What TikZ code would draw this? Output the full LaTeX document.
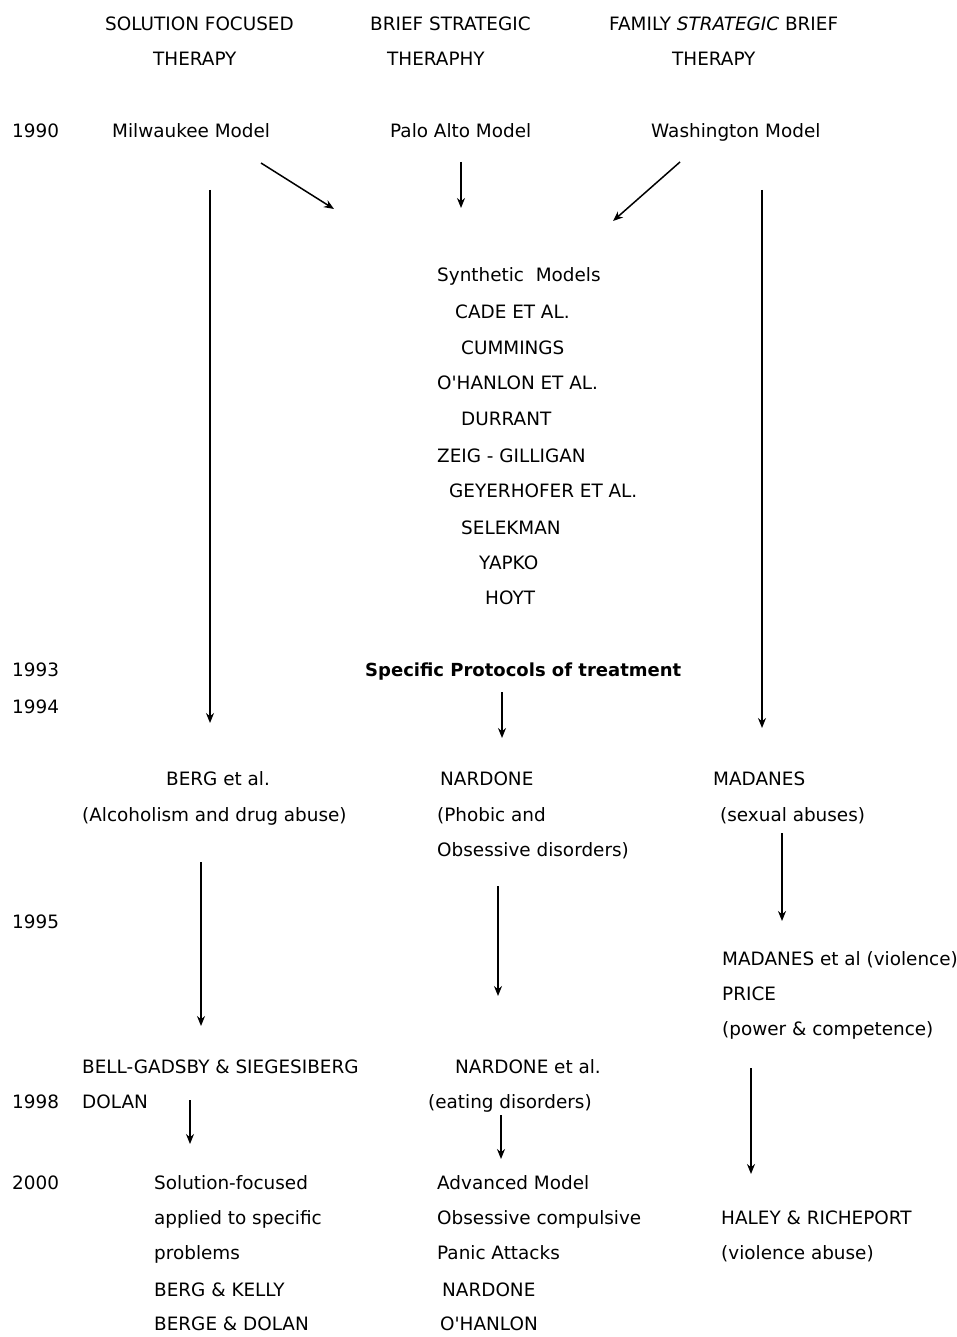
\documentclass[tikz,border=0pt]{standalone}
\usepackage{fontspec}
\newfontfamily\mainf{DejaVu Sans}
\usetikzlibrary{arrows.meta}
\begin{document}
\begin{tikzpicture}[x=1pt,y=-1pt,
  lbl/.style={anchor=base west,inner sep=0pt,font=\mainf\fontsize{18.4}{20}\selectfont},
  arr/.style={line width=1.5pt,-{Stealth[length=10pt,width=8pt]}}]
\useasboundingbox (0,0) rectangle (957,1337);
\fill[white] (0,0) rectangle (957,1337);
% headers
\node[lbl] (h1a) at (105,31) {SOLUTION FOCUSED};
\node[lbl] (h1b) at (153,66) {THERAPY};
\node[lbl] (h2a) at (370,31) {BRIEF STRATEGIC};
\node[lbl] (h2b) at (387,66) {THERAPHY};
\node[lbl] (h3a) at (609,31) {FAMILY \textit{STRATEGIC} BRIEF};
\node[lbl] (h3b) at (672,66) {THERAPY};
% 1990
\node[lbl] (y1990) at (12,138) {1990};
\node[lbl] (mil) at (112,138) {Milwaukee Model};
\node[lbl] (palo) at (390,138) {Palo Alto Model};
\node[lbl] (wash) at (651,138) {Washington Model};
% synthetic
\node[lbl] (syn) at (437,282) {Synthetic\ \ Models};
\node[lbl] (cade) at (455,318) {CADE ET AL.};
\node[lbl] (cumm) at (461,354) {CUMMINGS};
\node[lbl] (ohan) at (437,389) {O'HANLON ET AL.};
\node[lbl] (durr) at (461,425) {DURRANT};
\node[lbl] (zeig) at (437,462) {ZEIG - GILLIGAN};
\node[lbl] (geyer) at (449,497) {GEYERHOFER ET AL.};
\node[lbl] (selek) at (461,534) {SELEKMAN};
\node[lbl] (yapko) at (479,569) {YAPKO};
\node[lbl] (hoyt) at (485,604) {HOYT};
% 1993/94
\node[lbl] (y1993) at (12,676) {1993};
\node[lbl,font=\mainf\fontsize{18}{20}\selectfont\bfseries] (spec) at (365,676) {Specific Protocols of treatment};
\node[lbl] (y1994) at (12,713) {1994};
% protocols
\node[lbl] (berg) at (166,785) {BERG et al.};
\node[lbl] (alc) at (82,821) {(Alcoholism and drug abuse)};
\node[lbl] (nard) at (440,785) {NARDONE};
\node[lbl] (phob) at (437,821) {(Phobic and};
\node[lbl] (obs) at (437,856) {Obsessive disorders)};
\node[lbl] (mad) at (713,785) {MADANES};
\node[lbl] (sex) at (720,821) {(sexual abuses)};
% 1995
\node[lbl] (y1995) at (12,928) {1995};
\node[lbl] (madv) at (722,965) {MADANES et al (violence)};
\node[lbl] (price) at (722,1000) {PRICE};
\node[lbl] (power) at (722,1035) {(power \& competence)};
% 1998
\node[lbl] (bell) at (82,1073) {BELL-GADSBY \& SIEGESIBERG};
\node[lbl] (nardea) at (455,1073) {NARDONE et al.};
\node[lbl] (y1998) at (12,1108) {1998};
\node[lbl] (dolan) at (82,1108) {DOLAN};
\node[lbl] (eat) at (428,1108) {(eating disorders)};
% 2000
\node[lbl] (y2000) at (12,1189) {2000};
\node[lbl] (sf1) at (154,1189) {Solution-focused};
\node[lbl] (sf2) at (154,1224) {applied to specific};
\node[lbl] (sf3) at (154,1259) {problems};
\node[lbl] (sf4) at (154,1296) {BERG \& KELLY};
\node[lbl] (sf5) at (154,1330) {BERGE \& DOLAN};
\node[lbl] (adv1) at (437,1189) {Advanced Model};
\node[lbl] (adv2) at (437,1224) {Obsessive compulsive};
\node[lbl] (adv3) at (437,1259) {Panic Attacks};
\node[lbl] (adv4) at (442,1296) {NARDONE};
\node[lbl] (adv5) at (440,1330) {O'HANLON};
\node[lbl] (hal1) at (721,1224) {HALEY \& RICHEPORT};
\node[lbl] (hal2) at (721,1259) {(violence abuse)};
% arrow coordinates
\coordinate (a1s) at (261,163); \coordinate (a1e) at (334,209);
\coordinate (a2s) at (461,162); \coordinate (a2e) at (461,208);
\coordinate (a3s) at (680,162); \coordinate (a3e) at (613,221);
\coordinate (a4s) at (210,190); \coordinate (a4e) at (210,723);
\coordinate (a5s) at (762,190); \coordinate (a5e) at (762,728);
\coordinate (a6s) at (502,692); \coordinate (a6e) at (502,738);
\coordinate (a7s) at (201,862); \coordinate (a7e) at (201,1026);
\coordinate (a8s) at (498,886); \coordinate (a8e) at (498,996);
\coordinate (a9s) at (782,833); \coordinate (a9e) at (782,921);
\coordinate (a10s) at (751,1068); \coordinate (a10e) at (751,1174);
\coordinate (a11s) at (190,1100); \coordinate (a11e) at (190,1144);
\coordinate (a12s) at (501,1115); \coordinate (a12e) at (501,1159);
\foreach \i in {1,...,12} \draw[arr] (a\i s) -- (a\i e);
\end{tikzpicture}
\end{document}
